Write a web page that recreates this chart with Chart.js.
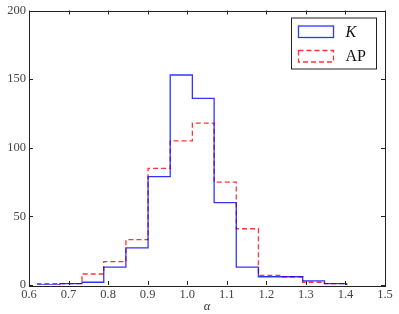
<!DOCTYPE html>
<html>
<head>
<meta charset="utf-8">
<script src="https://cdn.jsdelivr.net/npm/chart.js@4/dist/chart.umd.min.js"></script>
<style>
  html, body { margin: 0; padding: 0; background: #fff; }
  #wrap { width: 399px; height: 314px; }
</style>
</head>
<body>
<div id="wrap"><canvas id="histChart" width="399" height="314"></canvas></div>
<script>
// bin edges (alpha) shared by both histograms
var binEdges = [0.622, 0.678, 0.734, 0.789, 0.845, 0.901, 0.957, 1.013, 1.068, 1.124, 1.180, 1.236, 1.292, 1.347, 1.403];
// counts per bin
var kCounts  = [0, 1, 2, 13, 27, 79, 153, 136, 60, 13, 6, 6, 3, 1];
var apCounts = [1, 1, 8, 17, 33, 85, 105, 118, 75, 41, 7, 6, 2, 1];
var xTicks = [0.6, 0.7, 0.8, 0.9, 1.0, 1.1, 1.2, 1.3, 1.4, 1.5];
var yTicks = [0, 50, 100, 150, 200];
var legendNames = ['K', 'AP'];

var serif = "'Liberation Serif', 'DejaVu Serif', serif";

// step outline like matplotlib histtype='step'
function stepPoints(counts) {
    var pts = [{x: binEdges[0], y: 0}];
    for (var i = 0; i < counts.length; i++) {
        pts.push({x: binEdges[i], y: counts[i]});
    }
    pts.push({x: binEdges[binEdges.length - 1], y: counts[counts.length - 1]});
    pts.push({x: binEdges[binEdges.length - 1], y: 0});
    return pts;
}

// inward ticks on all four sides + frame
var frameTicks = {
    id: 'frameTicks',
    afterDraw: function(chart) {
        var ctx = chart.ctx, a = chart.chartArea;
        var xs = chart.scales.x, ys = chart.scales.y;
        ctx.save();
        ctx.strokeStyle = '#222';
        ctx.lineWidth = 1;
        ctx.beginPath();
        xTicks.forEach(function(v) {
            var px = Math.round(xs.getPixelForValue(v)) + 0.5;
            ctx.moveTo(px, a.bottom); ctx.lineTo(px, a.bottom - 4);
            ctx.moveTo(px, a.top); ctx.lineTo(px, a.top + 4);
        });
        yTicks.forEach(function(v) {
            var py = Math.round(ys.getPixelForValue(v)) + 0.5;
            ctx.moveTo(a.left, py); ctx.lineTo(a.left + 4, py);
            ctx.moveTo(a.right, py); ctx.lineTo(a.right - 4, py);
        });
        ctx.stroke();
        ctx.strokeRect(Math.round(a.left) + 0.5, Math.round(a.top) + 0.5,
                       Math.round(a.right - a.left), Math.round(a.bottom - a.top));
        ctx.restore();
    }
};

// legend box in the upper right, drawn like matplotlib's
var histLegend = {
    id: 'histLegend',
    afterDraw: function(chart) {
        var ctx = chart.ctx, a = chart.chartArea;
        var bx = a.right - 93.5, by = a.top + 7.5, bw = 85, bh = 51;
        ctx.save();
        ctx.fillStyle = '#fff';
        ctx.fillRect(bx, by, bw, bh);
        ctx.strokeStyle = '#222';
        ctx.lineWidth = 1;
        ctx.strokeRect(bx, by, bw, bh);
        var ds = chart.data.datasets;
        for (var i = 0; i < ds.length; i++) {
            var ry = by + 8 + i * 24.5;
            ctx.strokeStyle = ds[i].borderColor;
            ctx.lineWidth = 1.3;
            ctx.setLineDash(ds[i].borderDash || []);
            ctx.strokeRect(bx + 7, ry, 35, 11.5);
            ctx.setLineDash([]);
            ctx.fillStyle = '#111';
            ctx.font = (i === 0 ? 'italic ' : '') + '16px ' + serif;
            ctx.textBaseline = 'middle';
            ctx.textAlign = 'left';
            ctx.fillText(legendNames[i], bx + 54, ry + 6.5);
        }
        ctx.restore();
    }
};

var histChart = new Chart(document.getElementById('histChart').getContext('2d'), {
    type: 'line',
    data: {
        datasets: [
            {
                label: legendNames[0],
                data: stepPoints(kCounts),
                stepped: 'before',
                fill: false,
                borderColor: 'rgba(0, 0, 255, 0.8)',
                borderWidth: 1.3,
                pointRadius: 0
            },
            {
                label: legendNames[1],
                data: stepPoints(apCounts),
                stepped: 'before',
                fill: false,
                borderColor: 'rgba(255, 0, 0, 0.8)',
                borderWidth: 1.3,
                borderDash: [5, 3],
                pointRadius: 0
            }
        ]
    },
    options: {
        responsive: false,
        animation: false,
        layout: { padding: { top: 10, right: 14, left: 0, bottom: 0 } },
        plugins: { legend: { display: false }, tooltip: { enabled: false } },
        scales: {
            x: {
                type: 'linear',
                min: 0.6,
                max: 1.5,
                afterBuildTicks: function(scale) {
                    scale.ticks = xTicks.map(function(v) { return {value: v}; });
                },
                afterFit: function(scale) { scale.height = 29; },
                grid: { display: false, drawTicks: false },
                border: { display: false },
                ticks: {
                    padding: 2,
                    color: '#444',
                    font: { family: serif, size: 12.5 },
                    maxRotation: 0,
                    autoSkip: false,
                    callback: function(v) { return Number(v).toFixed(1); }
                },
                title: {
                    display: true,
                    text: 'α',
                    color: '#333',
                    padding: 0,
                    font: { family: serif, size: 12.5, style: 'italic' }
                }
            },
            y: {
                min: 0,
                max: 200,
                afterBuildTicks: function(scale) {
                    scale.ticks = yTicks.map(function(v) { return {value: v}; });
                },
                afterFit: function(scale) { scale.width = 29; },
                grid: { display: false, drawTicks: false },
                border: { display: false },
                ticks: {
                    padding: 3,
                    color: '#444',
                    font: { family: serif, size: 12.5 }
                }
            }
        }
    },
    plugins: [frameTicks, histLegend]
});
</script>
</body>
</html>
